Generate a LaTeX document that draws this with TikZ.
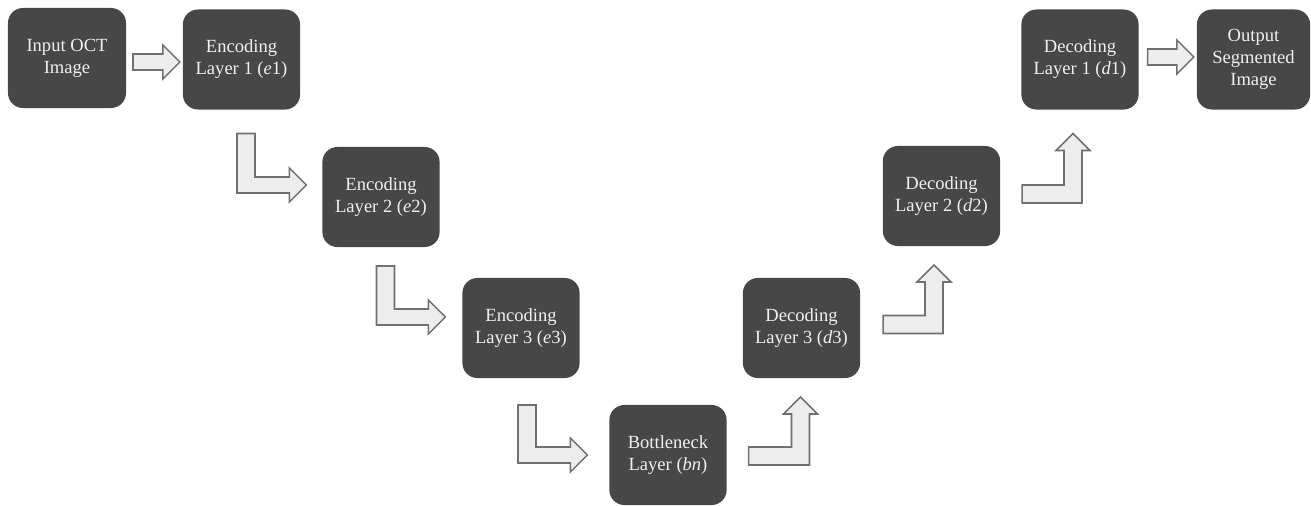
\documentclass[tikz,border=0pt]{standalone}
\usepackage{fontspec}
\setmainfont{Liberation Serif}
\usetikzlibrary{calc}
\definecolor{boxgray}{HTML}{474747}
\definecolor{arrowfill}{HTML}{EDEDED}
\definecolor{arrowline}{HTML}{707070}
\newdimen\pxu \pxu=0.025cm
% block arrows: #1 start of the shaft, #2 tip
\newcommand{\rtarrow}[2]{\draw[blk] let \p1=(#1), \p2=(#2) in
 (\x1,\y1+8*\pxu) -- (\x2-17*\pxu,\y1+8*\pxu) -- (\x2-17*\pxu,\y1+17*\pxu) -- (\x2,\y1)
 -- (\x2-17*\pxu,\y1-17*\pxu) -- (\x2-17*\pxu,\y1-8*\pxu) -- (\x1,\y1-8*\pxu) -- cycle;}
\newcommand{\elbowdown}[2]{\draw[blk] let \p1=(#1), \p2=(#2) in
 (\x1-9*\pxu,\y1) -- (\x1+9*\pxu,\y1) -- (\x1+9*\pxu,\y2+8*\pxu) -- (\x2-17*\pxu,\y2+8*\pxu)
 -- (\x2-17*\pxu,\y2+17*\pxu) -- (\x2,\y2) -- (\x2-17*\pxu,\y2-17*\pxu) -- (\x2-17*\pxu,\y2-8*\pxu)
 -- (\x1-9*\pxu,\y2-8*\pxu) -- cycle;}
\newcommand{\elbowup}[2]{\draw[blk] let \p1=(#1), \p2=(#2) in
 (\x1,\y1-9*\pxu) -- (\x2+9*\pxu,\y1-9*\pxu) -- (\x2+9*\pxu,\y2-17*\pxu) -- (\x2+17*\pxu,\y2-17*\pxu)
 -- (\x2,\y2) -- (\x2-17*\pxu,\y2-17*\pxu) -- (\x2-9*\pxu,\y2-17*\pxu) -- (\x2-9*\pxu,\y1+9*\pxu)
 -- (\x1,\y1+9*\pxu) -- cycle;}
\begin{document}
\begin{tikzpicture}[x=0.025cm,y=-0.025cm,
 lyr/.style={fill=boxgray,text=white!94!black,rounded corners=0.375cm,minimum width=2.93cm,
  minimum height=2.5cm,align=center,inner sep=2pt,outer sep=0pt,font=\fontsize{13.2}{15.6}\selectfont},
 blk/.style={draw=arrowline,fill=arrowfill,line width=1.1pt}]
\useasboundingbox (0,0) rectangle (1311,506);
\node[lyr,minimum width=2.95cm] (in) at (67,58) {Input OCT\\Image};
\node[lyr] (e1) at (241.5,59.5) {Encoding\\Layer 1 (\textit{e}1)};
\node[lyr] (e2) at (381,197) {Encoding\\Layer 2 (\textit{e}2)};
\node[lyr] (e3) at (521,328) {Encoding\\Layer 3 (\textit{e}3)};
\node[lyr] (bn) at (668,455) {Bottleneck\\Layer (\textit{bn})};
\node[lyr] (d3) at (801.5,328) {Decoding\\Layer 3 (\textit{d}3)};
\node[lyr] (d2) at (941.5,196) {Decoding\\Layer 2 (\textit{d}2)};
\node[lyr] (d1) at (1080,59.5) {Decoding\\Layer 1 (\textit{d}1)};
\node[lyr,minimum width=2.83cm] (out) at (1253.5,59.5) {Output\\Segmented\\Image};
\rtarrow{$(in.east)+(7,4)$}{$(e1.west)+(-3,2.5)$}
\elbowdown{$(e1.south)+(4.5,24)$}{$(e2.west)+(-16,-12)$}
\elbowdown{$(e2.south)+(4.5,19)$}{$(e3.west)+(-17,-11)$}
\elbowdown{$(e3.south)+(6,27)$}{$(bn.west)+(-22,0)$}
\elbowup{$(bn.east)+(22,1)$}{$(d3.south)+(-1,19)$}
\elbowup{$(d3.east)+(23,-3.5)$}{$(d2.south)+(-7.5,19)$}
\elbowup{$(d2.east)+(22,-2)$}{$(d1.south)+(-7,24)$}
\rtarrow{$(d1.east)+(9,-2.5)$}{$(out.west)+(-3,-2.5)$}
\end{tikzpicture}
\end{document}
